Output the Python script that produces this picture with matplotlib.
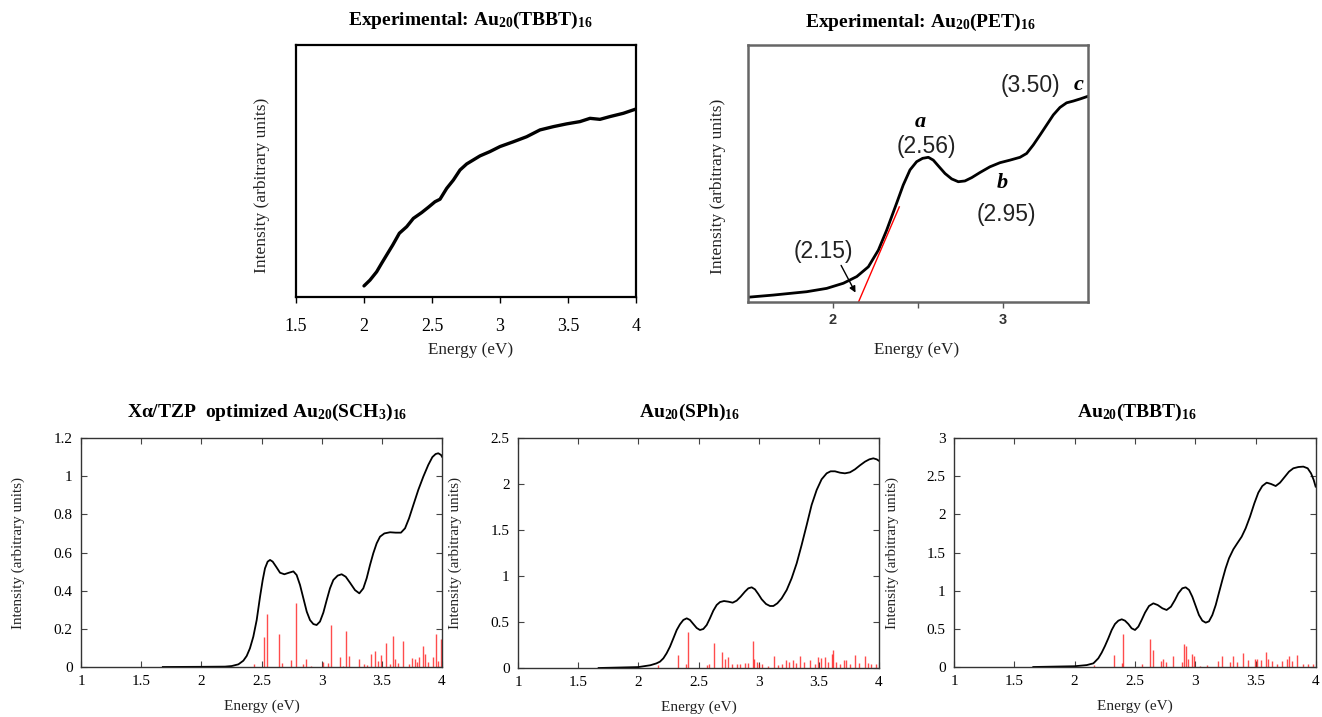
import numpy as np
import matplotlib
matplotlib.use("Agg")
import matplotlib.pyplot as plt

plt.rcParams['mathtext.fontset'] = 'custom'
plt.rcParams['mathtext.rm'] = 'Liberation Serif'
plt.rcParams['mathtext.it'] = 'Liberation Serif:italic'
plt.rcParams['mathtext.bf'] = 'Liberation Serif:bold'
SERIF = 'Liberation Serif'

# experimental Au20(TBBT)16 absorption
exp_tbbt_e = [2.0, 2.044, 2.093, 2.13, 2.167, 2.211, 2.26, 2.314, 2.363, 2.424, 2.473,
              2.522, 2.559, 2.608, 2.657, 2.706, 2.755, 2.804, 2.853, 2.926, 3.0,
              3.098, 3.196, 3.294, 3.392, 3.49, 3.588, 3.662, 3.735, 3.809, 3.907, 4.0]
exp_tbbt_i = [0.044, 0.067, 0.10, 0.134, 0.167, 0.206, 0.253, 0.279, 0.312, 0.335, 0.356,
              0.378, 0.388, 0.431, 0.464, 0.504, 0.528, 0.544, 0.56, 0.577, 0.597,
              0.616, 0.636, 0.663, 0.676, 0.687, 0.696, 0.709, 0.705, 0.716, 0.729, 0.746]

# experimental Au20(PET)16 absorption
exp_pet_e = [1.49, 1.649, 1.845, 1.963, 2.061, 2.14, 2.208, 2.267, 2.316, 2.374, 2.413,
             2.453, 2.492, 2.527, 2.561, 2.59, 2.619, 2.659, 2.698, 2.737, 2.776, 2.816,
             2.865, 2.923, 2.982, 3.041, 3.1, 3.139, 3.178, 3.218, 3.257, 3.296, 3.335,
             3.374, 3.414, 3.453, 3.502]
exp_pet_i = [0.018, 0.027, 0.04, 0.053, 0.073, 0.099, 0.137, 0.202, 0.28, 0.384, 0.455,
             0.514, 0.546, 0.559, 0.563, 0.552, 0.53, 0.50, 0.479, 0.468, 0.471, 0.484,
             0.504, 0.526, 0.542, 0.552, 0.563, 0.578, 0.611, 0.65, 0.689, 0.728, 0.757,
             0.775, 0.782, 0.79, 0.801]
onset_e = [2.15, 2.39]
onset_i = [0.0, 0.37]

# computed spectra: broadened curve + stick transitions
sch3_e = [1.68, 2.0, 2.197, 2.252, 2.308, 2.349, 2.377, 2.404, 2.432, 2.46, 2.488, 2.51,
          2.529, 2.551, 2.571, 2.593, 2.621, 2.654, 2.69, 2.728, 2.765, 2.792, 2.82,
          2.848, 2.876, 2.903, 2.931, 2.958, 2.986, 3.014, 3.042, 3.069, 3.097, 3.133,
          3.166, 3.2, 3.235, 3.277, 3.313, 3.346, 3.374, 3.402, 3.429, 3.457, 3.485,
          3.521, 3.568, 3.615, 3.659, 3.693, 3.726, 3.762, 3.803, 3.845, 3.886, 3.92,
          3.947, 3.969, 3.992, 4.0]
sch3_i = [0.0, 0.001, 0.002, 0.005, 0.014, 0.033, 0.058, 0.098, 0.159, 0.246, 0.369, 0.456,
          0.517, 0.552, 0.561, 0.552, 0.526, 0.494, 0.486, 0.494, 0.501, 0.482, 0.43,
          0.36, 0.29, 0.246, 0.225, 0.22, 0.238, 0.285, 0.351, 0.412, 0.456, 0.479,
          0.486, 0.473, 0.442, 0.403, 0.386, 0.412, 0.465, 0.535, 0.596, 0.648, 0.683,
          0.70, 0.706, 0.704, 0.704, 0.727, 0.779, 0.849, 0.928, 0.998, 1.059, 1.10,
          1.116, 1.12, 1.111, 1.102]
sch3_stick_e = [2.437, 2.523, 2.543, 2.643, 2.668, 2.745, 2.789, 2.842, 2.869, 2.91,
                3.013, 3.049, 3.08, 3.152, 3.18, 3.205, 3.227, 3.31, 3.352, 3.38, 3.407,
                3.443, 3.465, 3.493, 3.532, 3.568, 3.596, 3.61, 3.638, 3.674, 3.729,
                3.751, 3.776, 3.795, 3.812, 3.84, 3.862, 3.887, 3.923, 3.948, 3.964, 3.989]
sch3_stick_f = [0.014, 0.157, 0.276, 0.175, 0.02, 0.035, 0.335, 0.017, 0.042, 0.007,
                0.026, 0.02, 0.218, 0.052, 0.007, 0.189, 0.056, 0.044, 0.014, 0.01, 0.07,
                0.084, 0.03, 0.061, 0.128, 0.017, 0.161, 0.044, 0.021, 0.135, 0.017,
                0.047, 0.044, 0.026, 0.052, 0.108, 0.07, 0.026, 0.052, 0.171, 0.03, 0.148]

sph_e = [1.67, 2.0, 2.1, 2.15, 2.18, 2.208, 2.235, 2.263, 2.291, 2.319, 2.346, 2.374, 2.402,
         2.429, 2.457, 2.485, 2.512, 2.54, 2.568, 2.595, 2.623, 2.651, 2.679, 2.712,
         2.748, 2.784, 2.817, 2.85, 2.886, 2.914, 2.942, 2.969, 2.997, 3.025, 3.061,
         3.094, 3.122, 3.155, 3.191, 3.233, 3.274, 3.316, 3.357, 3.399, 3.44, 3.482,
         3.523, 3.565, 3.598, 3.634, 3.676, 3.717, 3.759, 3.8, 3.842, 3.884, 3.92,
         3.953, 3.981, 3.997]
sph_i = [0.0, 0.01, 0.03, 0.05, 0.069, 0.105, 0.16, 0.232, 0.322, 0.413, 0.475, 0.522, 0.54,
         0.522, 0.478, 0.435, 0.413, 0.424, 0.467, 0.54, 0.623, 0.685, 0.717, 0.728,
         0.721, 0.71, 0.732, 0.775, 0.83, 0.866, 0.877, 0.855, 0.804, 0.747, 0.696,
         0.674, 0.674, 0.703, 0.757, 0.848, 0.975, 1.138, 1.337, 1.554, 1.772, 1.935,
         2.051, 2.116, 2.138, 2.138, 2.123, 2.116, 2.127, 2.159, 2.203, 2.243, 2.268,
         2.279, 2.268, 2.254]
sph_stick_e = [2.161, 2.332, 2.393, 2.415, 2.568, 2.587, 2.629, 2.693, 2.72, 2.748, 2.775,
               2.817, 2.845, 2.886, 2.908, 2.95, 2.964, 2.983, 3.003, 3.025, 3.08, 3.13,
               3.163, 3.19, 3.226, 3.254, 3.287, 3.314, 3.347, 3.375, 3.424, 3.466, 3.494,
               3.521, 3.549, 3.577, 3.613, 3.618, 3.646, 3.674, 3.71, 3.724, 3.757, 3.804,
               3.834, 3.881, 3.909, 3.937, 3.978]
sph_stick_f = [0.03, 0.138, 0.04, 0.391, 0.03, 0.04, 0.272, 0.174, 0.10, 0.12, 0.04,
               0.047, 0.047, 0.054, 0.054, 0.293, 0.10, 0.065, 0.047, 0.047, 0.025, 0.127,
               0.036, 0.047, 0.083, 0.065, 0.09, 0.054, 0.127, 0.065, 0.09, 0.047, 0.12,
               0.109, 0.12, 0.065, 0.156, 0.192, 0.065, 0.04, 0.09, 0.09, 0.047, 0.138,
               0.054, 0.127, 0.054, 0.047, 0.04]

tbbt_e = [1.657, 2.0, 2.1, 2.155, 2.169, 2.196, 2.224, 2.251, 2.279, 2.307, 2.334, 2.362,
          2.39, 2.417, 2.445, 2.472, 2.5, 2.528, 2.555, 2.583, 2.616, 2.652, 2.688, 2.727,
          2.762, 2.798, 2.831, 2.859, 2.892, 2.92, 2.948, 2.975, 3.003, 3.03, 3.058,
          3.086, 3.113, 3.141, 3.169, 3.196, 3.224, 3.251, 3.279, 3.315, 3.351, 3.384,
          3.417, 3.453, 3.489, 3.522, 3.555, 3.591, 3.627, 3.666, 3.702, 3.738, 3.776,
          3.812, 3.854, 3.895, 3.931, 3.959, 3.981, 3.997]
tbbt_i = [0.0, 0.01, 0.025, 0.048, 0.07, 0.114, 0.188, 0.275, 0.376, 0.485, 0.563, 0.607,
          0.625, 0.607, 0.563, 0.507, 0.485, 0.529, 0.616, 0.712, 0.799, 0.834, 0.812,
          0.769, 0.747, 0.79, 0.878, 0.965, 1.031, 1.044, 1.009, 0.921, 0.799, 0.681,
          0.607, 0.581, 0.598, 0.681, 0.812, 0.974, 1.14, 1.293, 1.424, 1.542, 1.629,
          1.707, 1.817, 1.969, 2.144, 2.284, 2.371, 2.415, 2.398, 2.371, 2.415, 2.485,
          2.559, 2.603, 2.62, 2.625, 2.603, 2.537, 2.45, 2.363]
tbbt_stick_e = [2.163, 2.329, 2.39, 2.398, 2.555, 2.624, 2.652, 2.715, 2.735, 2.754, 2.812,
                2.887, 2.906, 2.922, 2.941, 2.969, 2.988, 3.038, 3.093, 3.19, 3.218, 3.287,
                3.315, 3.342, 3.392, 3.439, 3.494, 3.514, 3.541, 3.583, 3.605, 3.633,
                3.674, 3.716, 3.757, 3.779, 3.799, 3.84, 3.896, 3.937, 3.978]
tbbt_stick_f = [0.03, 0.153, 0.05, 0.437, 0.044, 0.367, 0.218, 0.074, 0.105, 0.061, 0.14,
                0.061, 0.306, 0.27, 0.105, 0.17, 0.14, 0.017, 0.026, 0.074, 0.14, 0.061,
                0.148, 0.061, 0.183, 0.087, 0.105, 0.105, 0.087, 0.192, 0.105, 0.074,
                0.044, 0.074, 0.105, 0.14, 0.074, 0.153, 0.044, 0.044, 0.044]


def px_axes(fig, x0, y0, x1, y1):
    W, H = 1322, 717
    return fig.add_axes([x0 / W, 1 - y1 / H, (x1 - x0) / W, (y1 - y0) / H])


def title(ax, txt, x, y):
    ax.text(x, y, txt, transform=ax.transAxes, ha='center', va='center',
            family=SERIF, fontweight='bold', fontsize=14)


def side_label(ax, x, y, txt, size, rot=90):
    ax.text(x, y, txt, transform=ax.transAxes, ha='center', va='center',
            rotation=rot, family=SERIF, fontsize=size, color='#222222')


def computed_panel(ax, e, i, se, sf, ymax, yticks, ttl, tx):
    ax.vlines(se, 0, sf, colors='red', lw=1.0, alpha=0.7)
    ax.plot(e, i, color='black', lw=1.3)
    ax.set_xlim(1, 4)
    ax.set_ylim(0, ymax)
    ax.set_xticks([1, 1.5, 2, 2.5, 3, 3.5, 4])
    ax.set_xticklabels(['1', '1.5', '2', '2.5', '3', '3.5', '4'])
    ax.set_yticks(yticks)
    ax.set_yticklabels(['%g' % t for t in yticks])
    ax.tick_params(direction='in', length=4, width=0.8, top=True, right=True,
                   labelsize=11, color='#444444', pad=6)
    for lab in ax.get_xticklabels() + ax.get_yticklabels():
        lab.set_family(SERIF)
    for sp in ax.spines.values():
        sp.set_color('#333333')
        sp.set_linewidth(1.0)
    title(ax, ttl, tx, 1.113)
    side_label(ax, 0.5, -0.17, 'Energy (eV)', 11, rot=0)


fig = plt.figure(figsize=(13.22, 7.17), dpi=100)

# top left: experimental TBBT
ax1 = px_axes(fig, 296, 45, 636, 297)
ax1.plot(exp_tbbt_e, exp_tbbt_i, color='black', lw=2.4, solid_capstyle='round')
ax1.set_xlim(1.5, 4)
ax1.set_ylim(0, 1)
ax1.set_yticks([])
ax1.set_xticks([1.5, 2, 2.5, 3, 3.5, 4])
ax1.set_xticklabels(['1.5', '2', '2.5', '3', '3.5', '4'])
ax1.tick_params(axis='x', direction='out', length=4, width=1, labelsize=13, pad=11)
for lab in ax1.get_xticklabels():
    lab.set_family(SERIF)
for sp in ax1.spines.values():
    sp.set_linewidth(1.6)
title(ax1, 'Experimental: Au$_{\\mathbf{20}}$(TBBT)$_{\\mathbf{16}}$', 0.512, 1.099)
side_label(ax1, 0.512, -0.21, 'Energy (eV)', 12.3, rot=0)
side_label(ax1, -0.1, 0.444, 'Intensity (arbitrary units)', 12.5)

# top right: experimental PET with onset and peak labels
ax2 = px_axes(fig, 748, 45, 1088, 302)
ax2.plot(exp_pet_e, exp_pet_i, color='black', lw=2.0)
ax2.plot(onset_e, onset_i, color='red', lw=1.0)
ax2.set_xlim(1.5, 3.5)
ax2.set_ylim(0, 1)
ax2.set_yticks([])
ax2.set_xticks([2, 3])
ax2.set_xticks([2.5], minor=True)
ax2.set_xticklabels(['2', '3'])
ax2.tick_params(axis='x', which='both', direction='out', length=4, width=1,
                labelsize=10.5, pad=4, color='#555555')
for lab in ax2.get_xticklabels():
    lab.set_family('Liberation Sans')
    lab.set_fontweight('bold')
    lab.set_color('#333333')
for sp in ax2.spines.values():
    sp.set_linewidth(1.8)
    sp.set_color('#666666')
ax2.annotate('', xy=(2.14, 0.027), xytext=(2.04, 0.152),
             arrowprops=dict(arrowstyle='-|>', color='black', lw=1.0,
                             mutation_scale=9))
for txt, x, y in [('(2.15)', 1.943, 0.196), ('(2.56)', 2.551, 0.604),
                  ('(2.95)', 3.022, 0.339), ('(3.50)', 3.159, 0.844)]:
    ax2.text(x, y, txt, ha='center', va='center', family='Liberation Sans',
             fontsize=16.5, color='#222222')
for txt, x, y in [('a', 2.512, 0.70), ('b', 2.998, 0.462), ('c', 3.443, 0.844)]:
    ax2.text(x, y, txt, ha='center', va='center', family=SERIF, fontsize=16,
             fontweight='bold', fontstyle='italic')
title(ax2, 'Experimental: Au$_{\\mathbf{20}}$(PET)$_{\\mathbf{16}}$', 0.506, 1.089)
side_label(ax2, 0.496, -0.187, 'Energy (eV)', 12.3, rot=0)
side_label(ax2, -0.088, 0.451, 'Intensity (arbitrary units)', 12.5)

# bottom row: computed spectra
ax3 = px_axes(fig, 81, 438, 442, 667)
computed_panel(ax3, sch3_e, sch3_i, sch3_stick_e, sch3_stick_f, 1.2,
               [0, 0.2, 0.4, 0.6, 0.8, 1, 1.2],
               'X\u03b1/TZP  optimized Au$_{\\mathbf{20}}$(SCH$_{\\mathbf{3}}$)$_{\\mathbf{16}}$',
               0.515)
side_label(ax3, -0.175, 0.498, 'Intensity (arbitrary units)', 10.9)

ax4 = px_axes(fig, 518, 438, 879, 668)
computed_panel(ax4, sph_e, sph_i, sph_stick_e, sph_stick_f, 2.5,
               [0, 0.5, 1, 1.5, 2, 2.5],
               'Au$_{\\mathbf{20}}$(SPh)$_{\\mathbf{16}}$', 0.476)
side_label(ax4, -0.175, 0.5, 'Intensity (arbitrary units)', 10.9)
side_label(ax4, 1.036, 0.5, 'Intensity (arbitrary units)', 10.9)

ax5 = px_axes(fig, 954, 438, 1316, 667)
computed_panel(ax5, tbbt_e, tbbt_i, tbbt_stick_e, tbbt_stick_f, 3,
               [0, 0.5, 1, 1.5, 2, 2.5, 3],
               'Au$_{\\mathbf{20}}$(TBBT)$_{\\mathbf{16}}$', 0.506)

fig.savefig('out.png', dpi=100)
